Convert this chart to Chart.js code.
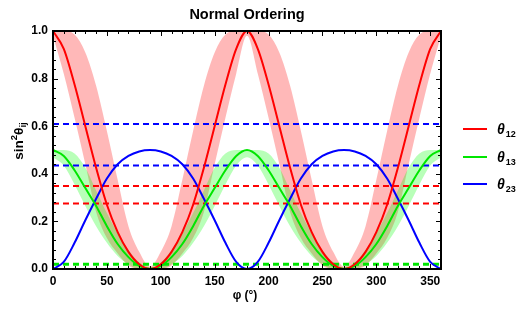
<!DOCTYPE html>
<html>
<head>
<meta charset="utf-8">
<script src="https://cdn.jsdelivr.net/npm/chart.js@4.4.1/dist/chart.umd.min.js"></script>
<style>
  html, body { margin: 0; padding: 0; background: #fff; }
  #wrap { width: 530px; height: 315px; }
</style>
</head>
<body>
<div id="wrap"><canvas id="myChart" width="530" height="315"></canvas></div>
<script>
// phi in degrees
const phi = [0,10,20,30,40,50,60,70,80,90,100,110,120,130,140,150,160,170,180,
  190,200,210,220,230,240,250,260,270,280,290,300,310,320,330,340,350,360];

// central curves
const s12 = [1.00,0.925,0.775,0.60,0.425,0.27,0.155,0.072,0.02,0.00,0.02,0.072,0.155,0.27,0.425,0.60,0.775,0.925,1.00,
  0.925,0.775,0.60,0.425,0.27,0.155,0.072,0.02,0.00,0.02,0.072,0.155,0.27,0.425,0.60,0.775,0.925,1.00];
const s13 = [0.50,0.475,0.415,0.34,0.265,0.18,0.105,0.05,0.013,0.00,0.013,0.05,0.105,0.18,0.265,0.34,0.415,0.475,0.50,
  0.475,0.415,0.34,0.265,0.18,0.105,0.05,0.013,0.00,0.013,0.05,0.105,0.18,0.265,0.34,0.415,0.475,0.50];
const s23 = [0.00,0.03,0.11,0.205,0.295,0.38,0.44,0.475,0.494,0.50,0.494,0.475,0.44,0.38,0.295,0.205,0.11,0.03,0.00,
  0.03,0.11,0.205,0.295,0.38,0.44,0.475,0.494,0.50,0.494,0.475,0.44,0.38,0.295,0.205,0.11,0.03,0.00];

// shaded bands (lower / upper edge)
const s12Lo = [0.98,0.82,0.635,0.44,0.24,0.13,0.065,0.015,0.00,0.00,0.00,0.015,0.065,0.13,0.24,0.44,0.635,0.82,0.98,
  0.82,0.635,0.44,0.24,0.13,0.065,0.015,0.00,0.00,0.00,0.015,0.065,0.13,0.24,0.44,0.635,0.82,0.98];
const s12Hi = [1.00,1.00,0.985,0.91,0.77,0.58,0.375,0.18,0.072,0.01,0.072,0.18,0.375,0.58,0.77,0.91,0.985,1.00,1.00,
  1.00,0.985,0.91,0.77,0.58,0.375,0.18,0.072,0.01,0.072,0.18,0.375,0.58,0.77,0.91,0.985,1.00,1.00];
const s13Lo = [0.47,0.435,0.355,0.265,0.18,0.11,0.055,0.02,0.00,0.00,0.00,0.02,0.055,0.11,0.18,0.265,0.355,0.435,0.47,
  0.435,0.355,0.265,0.18,0.11,0.055,0.02,0.00,0.00,0.00,0.02,0.055,0.11,0.18,0.265,0.355,0.435,0.47];
const s13Hi = [0.50,0.50,0.485,0.425,0.33,0.235,0.15,0.08,0.028,0.006,0.028,0.08,0.15,0.235,0.33,0.425,0.485,0.50,0.50,
  0.50,0.485,0.425,0.33,0.235,0.15,0.08,0.028,0.006,0.028,0.08,0.15,0.235,0.33,0.425,0.485,0.50,0.50];

// dashed reference levels
const s12Refs = [0.349, 0.275];
const s13Refs = [0.0177, 0.0222];
const s23Refs = [0.609, 0.435];

const xTicks = [0,50,100,150,200,250,300,350];
const yTicks = [0.0,0.2,0.4,0.6,0.8,1.0];

const RED = "#ff0000", GREEN = "#00e600", BLUE = "#0000ff";
const FONT = "'Liberation Sans', Arial, sans-serif";

function pts(arr) {
  return phi.map((p, i) => ({ x: p, y: arr[i] }));
}

function curve(arr, color) {
  return {
    data: pts(arr), borderColor: color, borderWidth: 2, pointRadius: 0,
    fill: false, cubicInterpolationMode: "monotone", order: 0,
  };
}

function band(arr, color, fill, order) {
  return {
    data: pts(arr), borderWidth: 0, borderColor: "rgba(0,0,0,0)", pointRadius: 0,
    backgroundColor: color, fill: fill, cubicInterpolationMode: "monotone", order: order,
  };
}

function refLine(v, color) {
  return {
    data: [{ x: 0, y: v }, { x: 360, y: v }], borderColor: color, borderWidth: 2,
    borderDash: [6, 4], pointRadius: 0, fill: false, order: 1,
  };
}

const datasets = [
  band(s12Hi, "rgba(255,0,0,0.28)", "+1", 5),
  band(s12Lo, "rgba(0,0,0,0)", false, 5),
  band(s13Hi, "rgba(0,255,0,0.28)", "+1", 4),
  band(s13Lo, "rgba(0,0,0,0)", false, 4),
];
s23Refs.forEach((v) => datasets.push(refLine(v, BLUE)));
s12Refs.forEach((v) => datasets.push(refLine(v, RED)));
s13Refs.forEach((v) => datasets.push(refLine(v, GREEN)));
datasets.push(curve(s12, RED), curve(s13, GREEN), curve(s23, BLUE));

// frame, inward ticks, titles and legend
const decor = {
  id: "decor",
  afterDraw(chart) {
    const ctx = chart.ctx;
    const a = chart.chartArea;
    const xs = chart.scales.x, ys = chart.scales.y;
    ctx.save();
    ctx.strokeStyle = "#000";
    ctx.lineWidth = 1;
    ctx.beginPath();
    for (let v = 0; v <= 360; v += 10) {
      const px = Math.round(xs.getPixelForValue(v)) + 0.5;
      const len = v % 50 === 0 ? 5 : 3;
      ctx.moveTo(px, a.bottom); ctx.lineTo(px, a.bottom - len);
      ctx.moveTo(px, a.top); ctx.lineTo(px, a.top + len);
    }
    for (let k = 0; k <= 25; k++) {
      const v = k * 0.04;
      const py = Math.round(ys.getPixelForValue(v)) + 0.5;
      const len = k % 5 === 0 ? 5 : 3;
      ctx.moveTo(a.left, py); ctx.lineTo(a.left + len, py);
      ctx.moveTo(a.right, py); ctx.lineTo(a.right - len, py);
    }
    ctx.stroke();
    ctx.lineWidth = 2;
    ctx.strokeRect(a.left, a.top, a.right - a.left, a.bottom - a.top);

    // title
    ctx.fillStyle = "#000";
    ctx.textAlign = "center";
    ctx.textBaseline = "middle";
    ctx.font = "bold 14.5px " + FONT;
    ctx.fillText("Normal Ordering", (a.left + a.right) / 2, 15);

    // x title
    ctx.font = "bold 12px " + FONT;
    ctx.fillText("φ (°)", (a.left + a.right) / 2 - 2, 296);

    // y title: sin^2 theta_ij
    ctx.save();
    ctx.translate(19, 141);
    ctx.rotate(-Math.PI / 2);
    const parts = [
      { t: "sin", f: "bold 13.5px " + FONT, dy: 0 },
      { t: "2", f: "bold 9.5px " + FONT, dy: -6 },
      { t: "θ", f: "bold 13.5px " + FONT, dy: 0 },
      { t: "ij", f: "bold 9.5px " + FONT, dy: 3 },
    ];
    let w = 0;
    parts.forEach((p) => { ctx.font = p.f; w += ctx.measureText(p.t).width; });
    let x = -w / 2;
    ctx.textAlign = "left";
    ctx.textBaseline = "alphabetic";
    parts.forEach((p) => {
      ctx.font = p.f;
      ctx.fillText(p.t, x, 4 + p.dy);
      x += ctx.measureText(p.t).width;
    });
    ctx.restore();

    // legend
    const items = [["12", RED, 129], ["13", GREEN, 157], ["23", BLUE, 184]];
    items.forEach(([sub, color, y]) => {
      ctx.strokeStyle = color;
      ctx.lineWidth = 2;
      ctx.beginPath();
      ctx.moveTo(463, y); ctx.lineTo(487, y);
      ctx.stroke();
      ctx.fillStyle = "#000";
      ctx.textAlign = "left";
      ctx.textBaseline = "alphabetic";
      ctx.font = "italic bold 14px " + FONT;
      ctx.fillText("θ", 497, y + 5);
      const tw = ctx.measureText("θ").width;
      ctx.font = "bold 9px " + FONT;
      ctx.fillText(sub, 497 + tw + 1, y + 8);
    });
    ctx.restore();
  },
};

new Chart(document.getElementById("myChart"), {
  type: "line",
  data: { datasets: datasets },
  options: {
    responsive: false,
    animation: false,
    devicePixelRatio: 1,
    layout: { padding: { top: 31, right: 89, left: 0, bottom: 0 } },
    plugins: { legend: { display: false }, title: { display: false }, tooltip: { enabled: false } },
    scales: {
      x: {
        type: "linear", min: 0, max: 360,
        afterFit: (s) => { s.height = 46; },
        afterBuildTicks: (s) => { s.ticks = xTicks.map((v) => ({ value: v })); },
        grid: { display: false, drawTicks: false },
        border: { display: false },
        ticks: { color: "#000", padding: 5, maxRotation: 0, font: { family: FONT, size: 12, weight: "bold" } },
      },
      y: {
        type: "linear", min: 0, max: 1,
        afterFit: (s) => { s.width = 53; },
        afterBuildTicks: (s) => { s.ticks = yTicks.map((v) => ({ value: v })); },
        grid: { display: false, drawTicks: false },
        border: { display: false },
        ticks: {
          color: "#000", padding: 5, font: { family: FONT, size: 12, weight: "bold" },
          callback: (v) => Number(v).toFixed(1),
        },
      },
    },
  },
  plugins: [decor],
});
</script>
</body>
</html>
